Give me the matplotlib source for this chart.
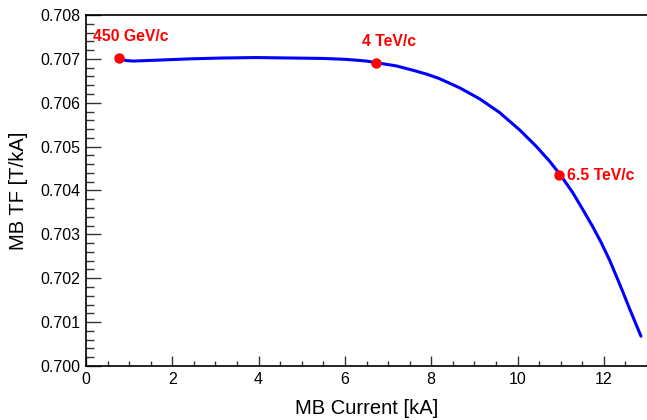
import matplotlib
matplotlib.use("Agg")
import matplotlib.pyplot as plt
from matplotlib.ticker import MultipleLocator, FormatStrFormatter

plt.rcParams['font.family'] = ['Liberation Sans', 'DejaVu Sans']

# transfer function curve
current = [0.76, 0.85, 0.95, 1.10, 1.64, 2.40, 3.17, 3.95, 4.72, 5.49,
           6.00, 6.27, 6.50, 6.81, 7.19, 7.58, 7.90, 8.19, 8.66, 9.12,
           9.58, 10.05, 10.43, 10.74, 10.99, 11.28, 11.51, 11.74, 11.94,
           12.13, 12.28, 12.44, 12.59, 12.75, 12.86]
tf = [0.70701, 0.70698, 0.70696, 0.70695, 0.70697, 0.70700, 0.70702,
      0.70703, 0.70702, 0.70701, 0.70699, 0.70697, 0.70695, 0.70690,
      0.70684, 0.70674, 0.70665, 0.70655, 0.70634, 0.70609, 0.70578,
      0.70538, 0.70501, 0.70467, 0.70436, 0.70395, 0.70357, 0.70318,
      0.70281, 0.70242, 0.70207, 0.70169, 0.70132, 0.70094, 0.70068]

# energy markers
pt_current = [0.76, 6.73, 10.97]
pt_tf = [0.70702, 0.70691, 0.70435]
pt_labels = ['450 GeV/c', '4 TeV/c', '6.5 TeV/c']

fig = plt.figure(figsize=(6.47, 4.20), dpi=100)
ax = fig.add_axes([86/647, 1 - 366/420, 1 - 86/647, (366 - 15)/420])

ax.plot(current, tf, color='#0000ff', lw=2.2, solid_capstyle='round',
        solid_joinstyle='round')
ax.plot(pt_current, pt_tf, 'o', color='#ff0000', ms=6.5, zorder=3)

offsets = [(-26, 21), (13, 21), (8, 0)]
aligns = ['left', 'center', 'left']
for x, y, lab, off, ha in zip(pt_current, pt_tf, pt_labels, offsets, aligns):
    ax.annotate(lab, (x, y), xytext=off, textcoords='offset pixels',
                ha=ha, va='center', color='#ff0000', fontsize=11.3,
                fontweight='bold')

ax.set_xlim(0, 13)
ax.set_ylim(0.700, 0.708)
ax.xaxis.set_major_locator(MultipleLocator(2))
ax.xaxis.set_minor_locator(MultipleLocator(0.5))
ax.yaxis.set_major_locator(MultipleLocator(0.001))
ax.yaxis.set_minor_locator(MultipleLocator(0.0002))
ax.yaxis.set_major_formatter(FormatStrFormatter('%.3f'))

ax.tick_params(axis='both', which='both', direction='in', labelsize=11.5,
               width=1.0, color='#333333')
ax.tick_params(axis='x', which='major', length=7)
ax.tick_params(axis='x', which='minor', length=3.5)
ax.tick_params(axis='y', which='major', length=11)
ax.tick_params(axis='y', which='minor', length=6)
ax.tick_params(axis='x', pad=4)
ax.tick_params(axis='y', pad=4)

ax.spines['right'].set_visible(False)
for s in ['left', 'bottom', 'top']:
    ax.spines[s].set_linewidth(1.2)

ax.set_xlabel('MB Current [kA]', fontsize=14.5, labelpad=9)
ax.set_ylabel('MB TF [T/kA]', fontsize=14.5, labelpad=9)

fig.savefig('out.png', dpi=100)
